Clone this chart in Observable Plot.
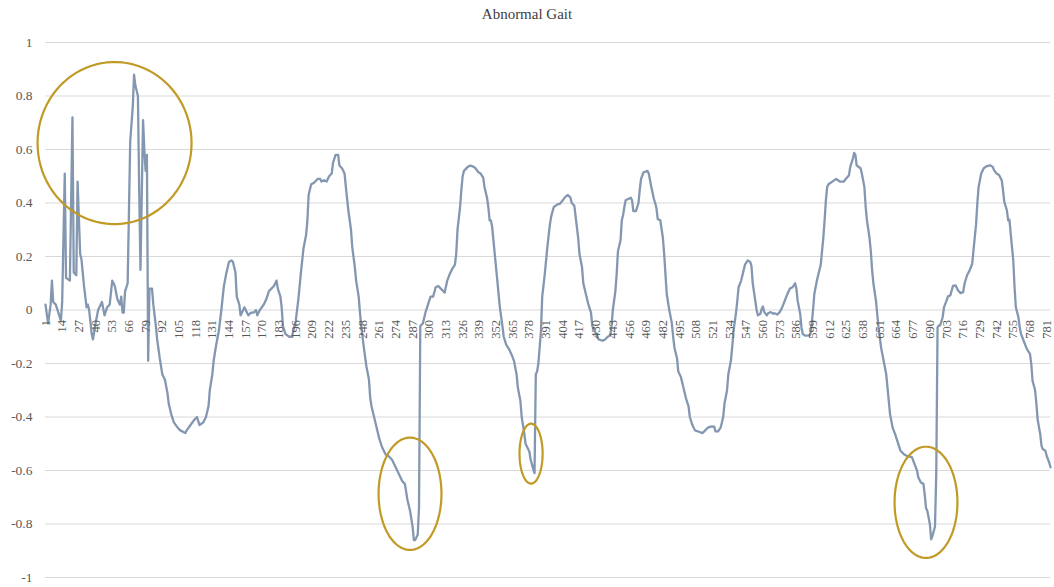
<!DOCTYPE html>
<html>
<head>
<meta charset="utf-8">
<script src="https://cdn.jsdelivr.net/npm/d3@7"></script>
<script src="https://cdn.jsdelivr.net/npm/@observablehq/plot@0.6"></script>
<style>
  body { margin: 0; background: #fff; }
  #title { height: 28px; line-height: 28px; text-align: center; font-family: "Liberation Serif", "Times New Roman", serif; font-size: 15px; color: #404040; }
</style>
</head>
<body>
<div id="title">Abnormal Gait</div>
<div id="chart"></div>
<script>
const frames = [
  1,3,5,6,7,9,11,13,14,16,17,20,22,23,25,26,28,29,31,33,34,35,37,38,40,42,45,47,49,51,53,55,57,59,60,61,62,63,65,67,69,70,71,73,74,75,77,78,79,80,81,82,84,85,87,88,90,92,94,96,97,99,101,104,106,110,111,114,117,119,121,124,126,128,129,131,132,134,136,138,140,142,144,146,147,149,150,152,153,154,156,158,159,161,163,165,166,168,171,173,175,177,179,181,182,184,185,186,188,191,193,195,196,198,200,
  202,204,205,206,208,210,213,215,216,218,220,222,224,225,227,229,230,232,234,235,237,239,240,242,243,245,246,247,249,251,253,254,255,257,259,261,263,266,268,271,274,276,279,281,282,283,285,286,287,288,289,290,291,292,293,295,297,299,301,303,305,307,309,311,312,314,316,318,320,321,322,324,325,326,327,330,332,334,336,338,340,342,343,345,346,347,348,349,351,353,355,357,358,360,362,364,366,368,369,371,372,374,375,377,378,379,381,382,383,384,385,387,388,390,392,394,395,397,400,
  402,404,406,408,410,411,413,414,416,417,419,420,422,424,426,427,430,432,435,437,439,441,442,443,445,446,447,449,450,451,452,453,455,457,458,459,461,463,464,465,467,470,471,473,475,476,477,478,480,482,483,484,485,487,489,490,491,493,494,496,498,500,502,503,505,507,510,513,515,517,520,522,523,525,527,529,530,532,533,535,536,537,539,540,541,543,545,546,548,550,551,552,554,555,556,558,559,560,561,563,564,566,568,569,571,573,575,577,579,581,583,585,586,587,589,590,591,593,596,597,598,599,600,
  602,604,605,606,607,608,609,610,611,614,617,618,620,623,624,627,628,630,631,632,633,636,637,639,640,641,643,644,645,646,648,649,650,652,654,656,657,658,659,661,663,665,667,670,672,676,678,680,681,683,685,686,687,688,690,691,692,694,695,696,697,698,700,
  701,703,704,706,708,710,712,714,716,717,719,721,723,724,726,727,728,730,732,734,737,739,740,742,744,746,747,748,750,751,752,753,755,756,757,759,760,761,763,765,766,768,769,770,772,773,774,776,777,778,780,781,783,784
];
const values = [
  0.02,-0.05,0.02,0.11,0.03,0.02,-0.01,-0.04,0.03,0.51,0.12,0.11,0.72,0.14,0.13,0.48,0.21,0.19,0.09,0.01,0.02,0.00,-0.09,-0.11,-0.05,0.00,0.03,-0.02,0.01,0.02,0.11,0.09,0.04,0.02,0.05,-0.01,-0.01,0.07,0.10,0.63,0.76,0.88,0.84,0.80,0.45,0.15,0.71,0.60,0.52,0.58,-0.19,0.08,0.08,0.02,-0.06,-0.11,-0.18,-0.24,-0.26,-0.31,-0.35,-0.39,-0.42,-0.44,-0.45,-0.46,-0.45,-0.43,-0.41,-0.40,-0.43,-0.42,-0.40,-0.36,-0.30,-0.24,-0.19,-0.13,-0.08,0.00,0.09,0.14,0.18,0.185,0.18,0.14,0.05,0.02,-0.02,-0.01,0.01,-0.01,-0.02,-0.01,-0.01,0.00,-0.02,0.00,0.02,0.04,0.07,0.08,0.09,0.11,0.08,0.05,0.01,-0.06,-0.09,-0.10,-0.10,-0.06,-0.04,0.04,0.14,
  0.23,0.28,0.33,0.43,0.47,0.475,0.49,0.49,0.48,0.485,0.48,0.50,0.51,0.55,0.58,0.58,0.54,0.53,0.51,0.46,0.37,0.30,0.235,0.16,0.11,0.05,-0.01,-0.06,-0.14,-0.21,-0.26,-0.33,-0.36,-0.40,-0.44,-0.48,-0.51,-0.54,-0.545,-0.56,-0.59,-0.61,-0.64,-0.65,-0.68,-0.71,-0.75,-0.78,-0.81,-0.86,-0.86,-0.85,-0.84,-0.74,-0.06,-0.05,-0.01,0.02,0.05,0.05,0.085,0.09,0.08,0.07,0.065,0.11,0.135,0.155,0.17,0.21,0.30,0.385,0.45,0.50,0.52,0.535,0.54,0.537,0.53,0.516,0.51,0.495,0.46,0.42,0.385,0.335,0.335,0.31,0.21,0.11,0.01,-0.06,-0.10,-0.13,-0.145,-0.165,-0.19,-0.24,-0.29,-0.34,-0.40,-0.46,-0.50,-0.52,-0.53,-0.56,-0.595,-0.61,-0.24,-0.23,-0.20,-0.08,0.05,0.135,0.235,0.32,0.35,0.385,0.395,
  0.398,0.41,0.423,0.43,0.42,0.40,0.39,0.35,0.27,0.21,0.16,0.10,0.06,0.02,-0.01,-0.06,-0.09,-0.11,-0.115,-0.11,-0.10,-0.095,-0.06,0.00,0.07,0.135,0.22,0.26,0.335,0.355,0.385,0.41,0.415,0.42,0.41,0.37,0.37,0.40,0.45,0.49,0.515,0.52,0.51,0.46,0.415,0.40,0.38,0.34,0.335,0.27,0.21,0.135,0.06,0.00,-0.05,-0.10,-0.14,-0.18,-0.23,-0.25,-0.29,-0.33,-0.36,-0.40,-0.43,-0.45,-0.455,-0.46,-0.45,-0.44,-0.435,-0.436,-0.454,-0.454,-0.44,-0.40,-0.35,-0.30,-0.24,-0.19,-0.14,-0.08,-0.01,0.035,0.085,0.11,0.15,0.17,0.185,0.18,0.165,0.10,0.035,0.00,-0.02,-0.014,0.005,0.013,-0.008,-0.02,-0.012,-0.008,-0.014,-0.012,-0.017,-0.008,0.01,0.035,0.06,0.08,0.085,0.10,0.08,0.035,-0.015,-0.065,-0.09,-0.096,-0.095,-0.09,-0.05,0.00,0.06,
  0.11,0.15,0.17,0.22,0.27,0.335,0.41,0.46,0.47,0.48,0.49,0.487,0.48,0.48,0.487,0.504,0.535,0.565,0.587,0.58,0.54,0.53,0.51,0.46,0.385,0.335,0.27,0.22,0.15,0.10,0.035,-0.015,-0.065,-0.14,-0.19,-0.24,-0.29,-0.34,-0.39,-0.44,-0.465,-0.495,-0.525,-0.54,-0.545,-0.55,-0.575,-0.60,-0.625,-0.645,-0.65,-0.69,-0.74,-0.75,-0.80,-0.857,-0.845,-0.81,-0.61,-0.065,-0.058,-0.058,-0.027,
  0.01,0.035,0.05,0.055,0.09,0.092,0.073,0.063,0.067,0.098,0.13,0.148,0.173,0.223,0.32,0.40,0.46,0.51,0.53,0.537,0.541,0.535,0.523,0.51,0.504,0.485,0.448,0.404,0.373,0.335,0.338,0.285,0.185,0.085,0.01,-0.027,-0.064,-0.089,-0.114,-0.139,-0.149,-0.164,-0.20,-0.264,-0.30,-0.35,-0.41,-0.464,-0.508,-0.52,-0.526,-0.545,-0.57,-0.588
];
const xTickLabels = d3.range(1, 782, 13);
const yTickValues = [-1, -0.8, -0.6, -0.4, -0.2, 0, 0.2, 0.4, 0.6, 0.8, 1];
// highlighted regions: centre (frame, value) and radii (frames, value units)
const highlightCx = [54.8, 285, 379.3, 687];
const highlightCy = [0.624, -0.687, -0.537, -0.719];
const highlightRx = [60, 24.5, 9, 24.5];
const highlightRy = [0.303, 0.21, 0.112, 0.208];

const serif = "'Liberation Serif', 'Times New Roman', serif";
const series = frames.map((f, i) => ({f, v: values[i]}));
const ellipsePts = [];
highlightCx.forEach((cx, k) => {
  for (let a = 0; a <= 360; a += 4) {
    const t = a * Math.PI / 180;
    ellipsePts.push({k, x: cx + highlightRx[k] * Math.cos(t), y: highlightCy[k] + highlightRy[k] * Math.sin(t)});
  }
});

const chart = Plot.plot({
  width: 1054,
  height: 559,
  marginTop: 14,
  marginBottom: 10,
  marginLeft: 45,
  marginRight: 4,
  x: {domain: [1, 784], axis: null},
  y: {domain: [-1, 1], axis: null},
  style: {fontFamily: serif, background: "#fff", overflow: "visible"},
  marks: [
    Plot.gridY(yTickValues, {stroke: "#d9d9d9", strokeOpacity: 1, strokeWidth: 1.2}),
    Plot.axisY(yTickValues, {tickSize: 0, tickPadding: 13, fontSize: 13.5, fontFamily: serif, fill: "#595959", tickFormat: d => String(+d.toFixed(1)), label: null}),
    Plot.line(series, {x: "f", y: "v", stroke: "#8497b0", strokeWidth: 2.3, strokeLinejoin: "round"}),
    Plot.text(xTickLabels, {x: d => d, y: 0, text: d => String(d), rotate: -90, textAnchor: "end", dy: 10, fontSize: 12.5, fontFamily: serif, fill: "#595959"}),
    Plot.line(ellipsePts, {x: "x", y: "y", z: "k", stroke: "#c19a26", strokeWidth: 2.2})
  ]
});
document.getElementById("chart").appendChild(chart);
</script>
</body>
</html>
